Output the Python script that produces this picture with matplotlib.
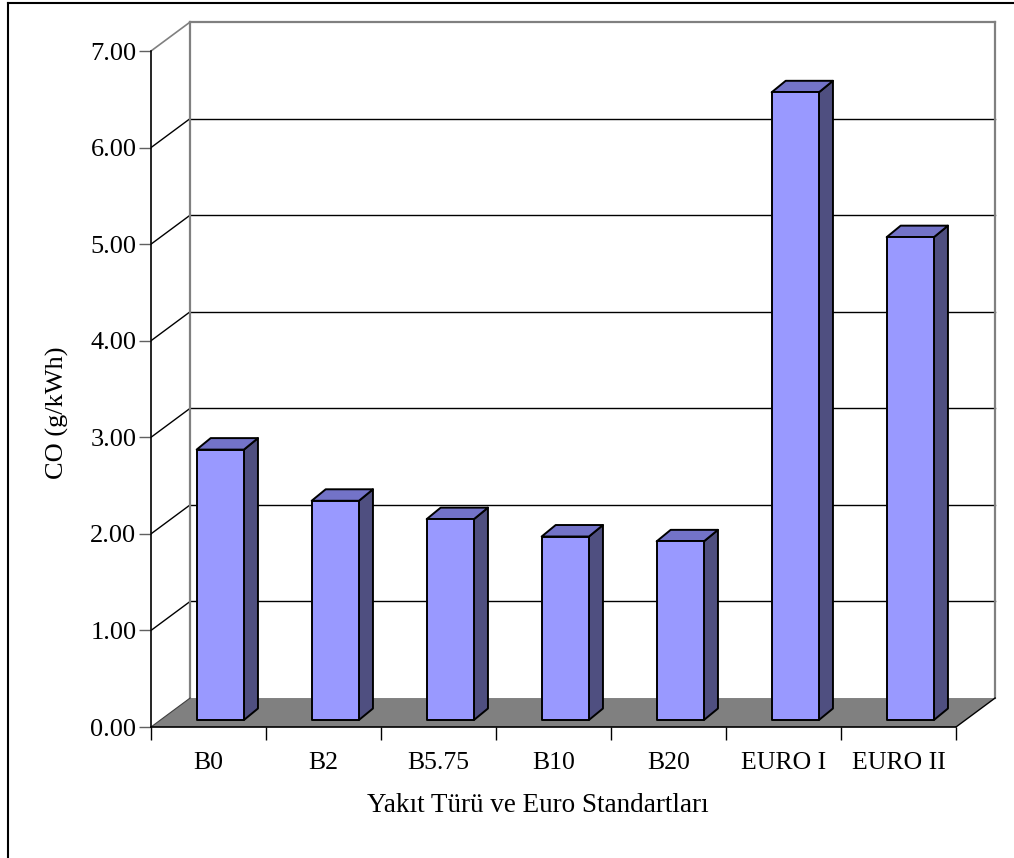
import matplotlib
matplotlib.use("Agg")
import matplotlib.pyplot as plt
from matplotlib.patches import Polygon
from matplotlib.lines import Line2D

plt.rcParams['font.family'] = ['Liberation Serif', 'DejaVu Serif']

# Data
categories = ["B0", "B2", "B5.75", "B10", "B20", "EURO I", "EURO II"]
co_values = [2.80, 2.27, 2.08, 1.90, 1.85, 6.50, 5.00]
y_ticks = [0, 1, 2, 3, 4, 5, 6, 7]
y_tick_labels = ["0.00", "1.00", "2.00", "3.00", "4.00", "5.00", "6.00", "7.00"]
x_title = "Yakıt Türü ve Euro Standartları"
y_title = "CO (g/kWh)"

W, H = 1014, 858
fig = plt.figure(figsize=(W / 100, H / 100), dpi=100)

# pixel geometry of the plot region
px_left, px_bottom = 151, 727
px_per_x, px_per_y = 115.0, 96.57
xmax, ymax = 7.5, 7.45
ax = fig.add_axes([px_left / W, (H - px_bottom) / H,
                   xmax * px_per_x / W, ymax * px_per_y / H])
ax.set_xlim(0, xmax)
ax.set_ylim(0, ymax)
ax.patch.set_alpha(0)

n = len(categories)
ymax_axis = y_ticks[-1]

# oblique depth of the walls and of the bars (data units)
wdx, wdy = 0.34, 0.30
bdx, bdy = 0.122, 0.119
bar_left, bar_w, bar_base = 0.397, 0.411, 0.0725

wall_gray = "#808080"

# floor
ax.add_patch(Polygon([(0, 0), (n, 0), (n + wdx, wdy), (wdx, wdy)],
                     closed=True, facecolor="#808080", edgecolor="none", zorder=1))
ax.add_line(Line2D([n, n + wdx], [0, wdy], color="black", lw=1.0, zorder=2))
ax.add_line(Line2D([0, wdx], [0, wdy], color="#404040", lw=0.8, zorder=2))

# gridlines on back and side wall
for v in y_ticks[1:-1]:
    ax.add_line(Line2D([wdx, n + wdx], [v + wdy, v + wdy], color="black", lw=1.0, zorder=1))
    ax.add_line(Line2D([0, wdx], [v, v + wdy], color="black", lw=1.0, zorder=1))

# wall outline
ax.add_line(Line2D([wdx, wdx], [wdy, ymax_axis + wdy], color=wall_gray, lw=1.6, zorder=1))
ax.add_line(Line2D([n + wdx, n + wdx], [wdy, ymax_axis + wdy], color=wall_gray, lw=1.6, zorder=1))
ax.add_line(Line2D([wdx, n + wdx], [ymax_axis + wdy, ymax_axis + wdy], color=wall_gray, lw=1.6, zorder=1))
ax.add_line(Line2D([0, wdx], [ymax_axis, ymax_axis + wdy], color=wall_gray, lw=1.2, zorder=1))

# 3D columns
front_c, side_c, top_c = "#9999FF", "#4F4F80", "#7373C8"
for i, v in enumerate(co_values):
    x0 = i + bar_left
    x1 = x0 + bar_w
    y0 = bar_base
    y1 = bar_base + v
    kw = dict(closed=True, edgecolor="black", lw=1.4, joinstyle="round", zorder=3)
    ax.add_patch(Polygon([(x1, y0), (x1 + bdx, y0 + bdy), (x1 + bdx, y1 + bdy), (x1, y1)],
                         facecolor=side_c, **kw))
    ax.add_patch(Polygon([(x0, y1), (x1, y1), (x1 + bdx, y1 + bdy), (x0 + bdx, y1 + bdy)],
                         facecolor=top_c, **kw))
    ax.add_patch(Polygon([(x0, y0), (x1, y0), (x1, y1), (x0, y1)],
                         facecolor=front_c, **kw))

# axes
for s in ("top", "right"):
    ax.spines[s].set_visible(False)
ax.spines["left"].set_bounds(0, ymax_axis)
ax.spines["bottom"].set_bounds(0, n)
for s in ("left", "bottom"):
    ax.spines[s].set_color("black")
    ax.spines[s].set_linewidth(1.2)
    ax.spines[s].set_zorder(4)

ax.set_yticks(y_ticks)
ax.set_yticklabels(y_tick_labels, fontsize=19)
ax.tick_params(axis="y", length=8.5, width=1.0, color="#606060", pad=2)

ax.set_xticks(range(n + 1))
ax.set_xticklabels([])
ax.set_xticks([i + 0.5 for i in range(n)], minor=True)
ax.set_xticklabels(categories, minor=True, fontsize=18.5)
ax.tick_params(axis="x", which="major", length=9, width=1.0, color="black")
ax.tick_params(axis="x", which="minor", length=0, pad=18)

fig.text(538 / W, 1 - 805 / H, x_title, fontsize=19.5, ha="center", va="center")
fig.text(57 / W, 1 - 413 / H, y_title, fontsize=19, rotation=90, ha="center", va="center")

# chart frame
fig.add_artist(Line2D([8 / W, 8 / W], [0, 1 - 3 / H], color="black", lw=1.5,
                      transform=fig.transFigure))
fig.add_artist(Line2D([8 / W, 1], [1 - 3 / H, 1 - 3 / H], color="black", lw=1.5,
                      transform=fig.transFigure))

fig.savefig("out.png", dpi=100)
